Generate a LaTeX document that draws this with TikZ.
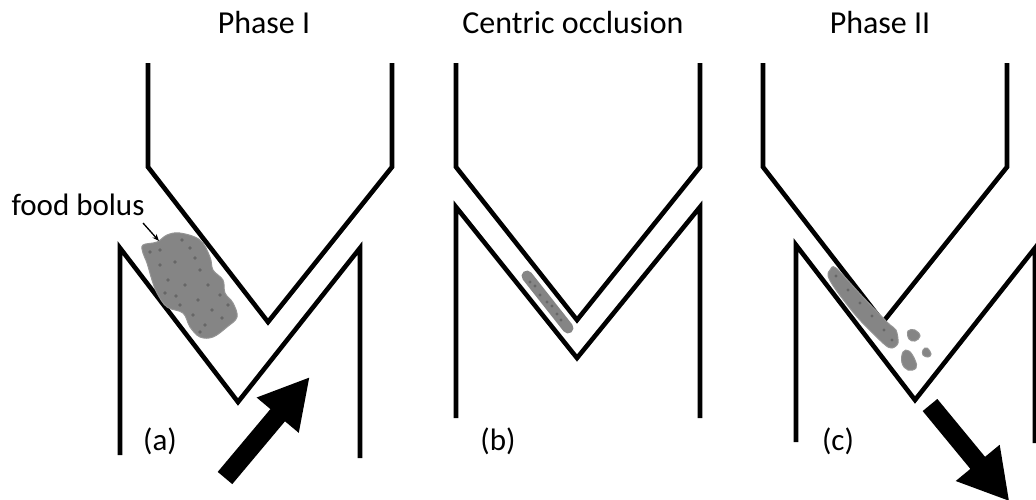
\documentclass[tikz,border=0pt]{standalone}
\usepackage{fontspec}
\setmainfont{Carlito}
\usetikzlibrary{arrows.meta}
\begin{document}
\begin{tikzpicture}[x=1pt,y=-1pt,
  tooth/.style={line width=4.6pt, line join=miter, miter limit=10},
  bolus/.style={fill=black!48, draw=black!42, line width=1pt},
  grain/.style={fill=black!60},
  blockarrow/.style={fill=black},
  title/.style={font=\fontsize{32}{36}\selectfont, anchor=base, inner sep=0pt},
  tag/.style={font=\fontsize{31}{35}\selectfont, anchor=base, inner sep=0pt},
  pointer/.style={line width=1.3pt, -{Stealth[length=7pt,width=5.5pt]}}]
\useasboundingbox (0,0) rectangle (1036,499);

% ---------------- headings ----------------
\node[title] (tA) at (264,33) {Phase I};
\node[title] (tB) at (573,33) {Centric occlusion};
\node[title] (tC) at (880,33) {Phase II};

% ---------------- (a) phase I ----------------
\draw[tooth] (148,63) -- (148,167) -- (268,322) -- (392,167) -- (392,63);
\draw[tooth] (120,455) -- (120,248) -- (238,402) -- (360,248) -- (360,458);
\draw[bolus] plot[smooth cycle, tension=0.6] coordinates {
  (143,245) (157,242) (167,235) (180,233) (200,240) (210,257) (213,270)
  (223,280) (225,293) (233,303) (237,317) (227,327) (213,337) (200,337)
  (190,327) (183,313) (167,307) (157,293) (152,280) (147,263) (143,253)};
\foreach \p in {(160,250),(175,262),(190,248),(168,280),(185,285),(200,270),
                (198,300),(212,310),(220,295),(205,325),(180,305),(160,265),
                (150,252),(182,240),(195,258),(176,296),(208,285),(222,318),
                (193,315),(165,293),(200,332),(228,305)}
  \fill[grain] \p circle (1.8pt);
\node[tag, anchor=base] (fb) at (78,215) {food bolus};
\coordinate (fbtail) at (143,223);
\coordinate (fbhead) at (159,241);
\draw[pointer] (fbtail) -- (fbhead);
\begin{scope}[shift={(225,478)}, rotate=50]
  \fill[blockarrow] (0,-9.5) -- (82,-9.5) -- (82,-27.5) -- (131,0)
     -- (82,27.5) -- (82,9.5) -- (0,9.5) -- cycle;
\end{scope}
\node[tag] (la) at (160,450) {(a)};

% ---------------- (b) centric occlusion ----------------
\draw[tooth] (456,63) -- (456,167) -- (577,320) -- (700,167) -- (700,63);
\draw[tooth] (456,418) -- (456,207) -- (577,358) -- (700,207) -- (700,418);
\draw[bolus, line width=11pt, line cap=round, draw=black!48] (527,276) -- (568,328);
\foreach \p in {(530,282),(540,295),(552,306),(561,320),(535,286),(547,302),(557,314)}
  \fill[grain] \p circle (1.6pt);
\node[tag] (lb) at (498,450) {(b)};

% ---------------- (c) phase II ----------------
\draw[tooth] (763,63) -- (763,167) -- (883,322) -- (1007,167) -- (1007,63);
\draw[tooth] (796,442) -- (796,245) -- (915,400) -- (1035,248) -- (1035,443);
\draw[bolus] plot[smooth cycle, tension=0.5] coordinates {
  (830,270) (836,268) (862,296) (888,323) (896,330) (898,343) (892,348)
  (884,344) (858,318) (836,290) (828,276)};
\foreach \p in {(836,276),(848,290),(860,303),(872,316),(884,330),(892,340)}
  \fill[grain] \p circle (1.6pt);
\draw[bolus] plot[smooth cycle, tension=0.7] coordinates {
  (908,331) (915,330) (920,336) (915,341) (909,339)};
\draw[bolus] plot[smooth cycle, tension=0.7] coordinates {
  (903,352) (909,351) (915,360) (916,368) (908,370) (902,363)};
\draw[bolus] plot[smooth cycle, tension=0.7] coordinates {
  (923,350) (927,348) (931,354) (928,357) (923,355)};
\begin{scope}[shift={(930,405)}, rotate=-50.5]
  \fill[blockarrow] (0,-9.5) -- (75,-9.5) -- (75,-28.5) -- (124,0)
     -- (75,28.5) -- (75,9.5) -- (0,9.5) -- cycle;
\end{scope}
\node[tag] (lc) at (838,450) {(c)};
\end{tikzpicture}
\end{document}
